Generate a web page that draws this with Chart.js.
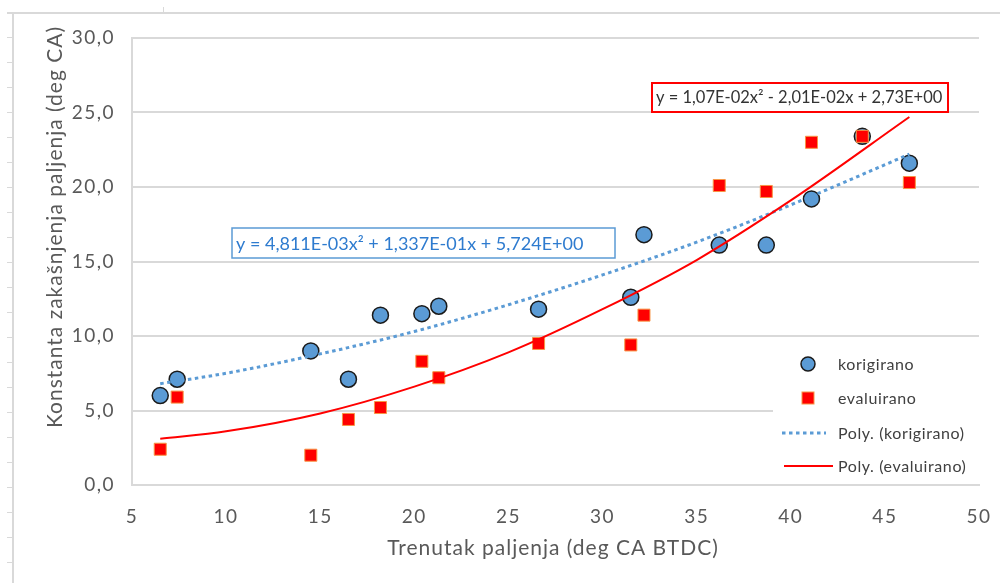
<!DOCTYPE html>
<html>
<head>
<meta charset="utf-8">
<script src="https://cdn.jsdelivr.net/npm/chart.js@4.4.0/dist/chart.umd.min.js"></script>
<style>
  html, body { margin: 0; padding: 0; background: #fff; }
  #wrap { width: 1000px; height: 583px; }
</style>
</head>
<body>
<div id="wrap"><canvas id="chart" width="1000" height="583"></canvas></div>
<script>
// ignition timing (deg CA BTDC)
const timing = [6.5, 7.4, 14.5, 16.5, 18.2, 20.4, 21.3, 26.6, 31.5, 32.2, 36.2, 38.7, 41.1, 43.8, 46.3];
const korigirano = [6.0, 7.1, 9.0, 7.1, 11.4, 11.5, 12.0, 11.8, 12.6, 16.8, 16.1, 16.1, 19.2, 23.4, 21.6];
const evaluirano = [2.4, 5.9, 2.0, 4.4, 5.2, 8.3, 7.2, 9.5, 9.4, 11.4, 20.1, 19.7, 23.0, 23.4, 20.3];

// trendline curves
const trendX = [6.5, 10, 15, 20, 25, 30, 35, 40, 46.3];
const korTrend = [6.8, 7.5, 8.8, 10.3, 12.1, 14.1, 16.3, 18.8, 22.2];
const evaTrend = [3.1, 3.6, 4.8, 6.6, 8.9, 11.8, 15.1, 19.1, 24.7];

const legendLabels = ['korigirano', 'evaluirano', 'Poly. (korigirano)', 'Poly. (evaluirano)'];
const korEquation = 'y = 4,811E-03x² + 1,337E-01x + 5,724E+00';
const evaEquation = 'y = 1,07E-02x² - 2,01E-02x + 2,73E+00';
const xTitle = 'Trenutak paljenja (deg CA BTDC)';
const yTitle = 'Konstanta zakašnjenja paljenja (deg CA)';

const FONT = 'Lato, "Open Sans", sans-serif';
const BLUE = '#5B9BD5';
const RED = '#FF0000';
const GRID = '#d9d9d9';
const TEXT = '#595959';

const toPoints = (xs, ys) => xs.map((x, i) => ({ x: x, y: ys[i] }));

// frame, axis titles, equation boxes and legend
const decorations = {
    id: 'decorations',
    beforeDraw(chart) {
        const ctx = chart.ctx;
        ctx.save();
        ctx.fillStyle = '#fff';
        ctx.fillRect(0, 0, chart.width, chart.height);
        ctx.strokeStyle = GRID;
        ctx.lineWidth = 2;
        ctx.beginPath();
        ctx.moveTo(7, 13); ctx.lineTo(1000, 13);
        ctx.moveTo(13, 13); ctx.lineTo(13, 583);
        ctx.stroke();
        ctx.lineWidth = 1;
        ctx.beginPath();
        for (let y = 37; y < 583; y += 25) { ctx.moveTo(7, y + 0.5); ctx.lineTo(12, y + 0.5); }
        ctx.moveTo(163.5, 7); ctx.lineTo(163.5, 12);
        ctx.stroke();
        ctx.restore();
        // wider spacing for the tick labels, like the original
        ctx.letterSpacing = '1.5px';
    },
    afterDraw(chart) {
        const ctx = chart.ctx;
        const ds = chart.data.datasets;
        ctx.save();

        // axis titles
        ctx.letterSpacing = '1px';
        ctx.fillStyle = TEXT;
        ctx.font = '21px ' + FONT;
        ctx.textAlign = 'center';
        ctx.textBaseline = 'middle';
        ctx.fillText(xTitle, 553, 548);
        ctx.save();
        ctx.translate(55, 227);
        ctx.rotate(-Math.PI / 2);
        ctx.fillText(yTitle, 0, 0);
        ctx.restore();

        // equation boxes
        ctx.letterSpacing = '0px';
        ctx.fillStyle = '#fff';
        ctx.fillRect(232, 228, 383, 30);
        ctx.strokeStyle = BLUE;
        ctx.lineWidth = 1.5;
        ctx.strokeRect(232, 228, 383, 30);
        ctx.fillStyle = '#2E7BCF';
        ctx.font = '18px ' + FONT;
        ctx.textAlign = 'left';
        ctx.fillText(korEquation, 236, 244);

        ctx.fillStyle = '#fff';
        ctx.fillRect(652, 83, 296, 29);
        ctx.strokeStyle = RED;
        ctx.lineWidth = 2;
        ctx.strokeRect(652, 83, 296, 29);
        ctx.fillStyle = '#333';
        ctx.font = '16.5px ' + FONT;
        ctx.fillText(evaEquation, 656, 98);

        // legend
        ctx.fillStyle = '#fff';
        ctx.fillRect(773, 340, 206, 143);
        const rows = [364, 398, 433, 466];
        ctx.letterSpacing = '0.6px';
        ctx.font = '16px ' + FONT;
        ctx.fillStyle = '#404040';
        legendLabels.forEach((t, i) => ctx.fillText(t, 838, rows[i] + 1));

        ctx.fillStyle = ds[0].backgroundColor;
        ctx.strokeStyle = ds[0].borderColor;
        ctx.lineWidth = 1.5;
        ctx.beginPath();
        ctx.arc(808, rows[0], 7, 0, Math.PI * 2);
        ctx.fill(); ctx.stroke();

        ctx.fillStyle = ds[1].backgroundColor;
        ctx.strokeStyle = ds[1].borderColor;
        ctx.lineWidth = 1;
        ctx.fillRect(802, rows[1] - 6, 12, 12);
        ctx.strokeRect(802, rows[1] - 6, 12, 12);

        ctx.strokeStyle = ds[2].borderColor;
        ctx.lineWidth = ds[2].borderWidth;
        ctx.setLineDash(ds[2].borderDash);
        ctx.beginPath();
        ctx.moveTo(782, rows[2]); ctx.lineTo(826, rows[2]);
        ctx.stroke();
        ctx.setLineDash([]);

        ctx.strokeStyle = ds[3].borderColor;
        ctx.lineWidth = ds[3].borderWidth;
        ctx.beginPath();
        ctx.moveTo(784, rows[3]); ctx.lineTo(833, rows[3]);
        ctx.stroke();

        ctx.restore();
    }
};

const chart = new Chart(document.getElementById('chart'), {
    type: 'scatter',
    data: {
        datasets: [{
            label: legendLabels[0],
            data: toPoints(timing, korigirano),
            backgroundColor: BLUE,
            borderColor: '#1a1a1a',
            borderWidth: 1.5,
            pointRadius: 8,
            pointHoverRadius: 8,
            order: 3
        }, {
            label: legendLabels[1],
            data: toPoints(timing, evaluirano),
            pointStyle: 'rect',
            backgroundColor: RED,
            borderColor: '#F79646',
            borderWidth: 1,
            pointRadius: 8.5,
            pointHoverRadius: 8.5,
            order: 2
        }, {
            label: legendLabels[2],
            type: 'line',
            data: toPoints(trendX, korTrend),
            borderColor: BLUE,
            borderWidth: 3,
            borderDash: [3.5, 3.5],
            borderCapStyle: 'butt',
            pointRadius: 0,
            fill: false,
            cubicInterpolationMode: 'monotone',
            order: 1
        }, {
            label: legendLabels[3],
            type: 'line',
            data: toPoints(trendX, evaTrend),
            borderColor: RED,
            borderWidth: 2,
            pointRadius: 0,
            fill: false,
            cubicInterpolationMode: 'monotone',
            order: 0
        }]
    },
    options: {
        responsive: false,
        devicePixelRatio: 1,
        animation: false,
        layout: { padding: { left: 0, right: 21, top: 38, bottom: 0 } },
        plugins: {
            legend: { display: false },
            tooltip: { enabled: false }
        },
        scales: {
            x: {
                type: 'linear',
                min: 5,
                max: 50,
                afterFit: s => { s.height = 98; s.paddingLeft = 0; s.paddingRight = 0; },
                grid: { display: false, drawTicks: false },
                border: { display: true, color: GRID, width: 2 },
                ticks: {
                    stepSize: 5,
                    padding: 20,
                    color: TEXT,
                    font: { family: FONT, size: 19 }
                }
            },
            y: {
                min: 0,
                max: 30,
                afterFit: s => { s.width = 132; },
                grid: { color: GRID, lineWidth: 2, drawTicks: false },
                border: { display: true, color: GRID, width: 2 },
                ticks: {
                    stepSize: 5,
                    padding: 17,
                    color: TEXT,
                    font: { family: FONT, size: 19 },
                    callback: v => v.toFixed(1).replace('.', ',')
                }
            }
        }
    },
    plugins: [decorations]
});
</script>
</body>
</html>
